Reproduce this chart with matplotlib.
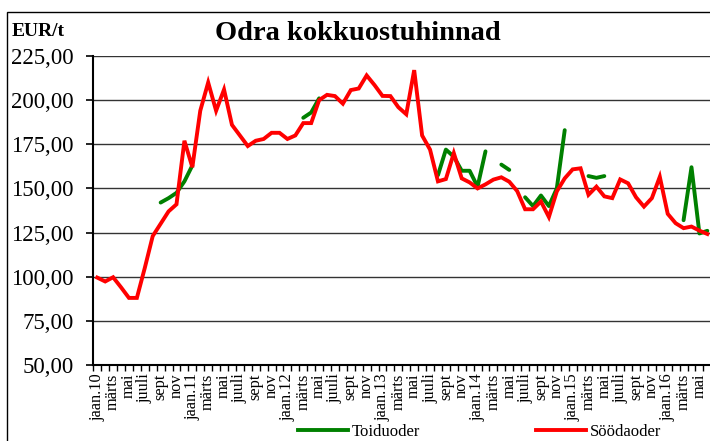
import numpy as np
import matplotlib
matplotlib.use('Agg')
import matplotlib.pyplot as plt
from matplotlib.lines import Line2D
from matplotlib.patches import Rectangle

nan = np.nan

# months from jaan.2010 (index 0) to juuni 2016 (index 77)
month_names = ['jaan', 'veebr', 'märts', 'apr', 'mai', 'juuni',
               'juuli', 'aug', 'sept', 'okt', 'nov', 'dets']

# Söödaoder, EUR/t
feed = [99.5, 97.3, 99.7, 94, 88, 88, 105, 123, 130, 137, 141,
        177, 162, 194, 210, 194, 206, 186, 180, 174, 177, 178,
        181.5, 181.5, 178, 180, 187, 187, 200, 203, 202.3, 198,
        205.7, 206.6, 214, 208.5, 202.4, 202.3, 196, 192, 217,
        180, 172, 154, 155.3, 170, 155.7, 153.4, 150, 152.3, 155,
        156.3, 153.8, 148.5, 138.2, 138.2, 142.6, 133.8, 148.3,
        155.7, 160.8, 161.4, 146.4, 151, 145.5, 144.5, 155.1,
        152.9, 145, 139.7, 144.5, 156.6, 135.6, 130.3, 127.5,
        128.4, 126.1, 124.2]

# Toiduoder, EUR/t (gaps where there is no price)
food = [nan] * 78
food[8:13] = [142, 144.5, 147.5, 154, 163]
food[26:29] = [190, 193, 201]
food[43:50] = [157.5, 172, 168, 160, 160, 151, 171]
food[51:53] = [163.5, 160.5]
food[54:60] = [145, 140, 146, 140, 150, 183]
food[62:65] = [157, 156, 157]
food[74:78] = [132, 162, 124.5, 126]

months = np.arange(len(feed))
tick_pos = months[::2]
tick_labels = []
for m in tick_pos:
    name = month_names[m % 12]
    if m % 12 == 0:
        name = name + '.' + str(10 + m // 12)
    tick_labels.append(name)

plt.rcParams['font.family'] = ['Liberation Serif', 'DejaVu Serif']

fig = plt.figure(figsize=(7.1, 4.41), dpi=100)

# outer chart border (cropped on the right and bottom)
fig.patches.append(Rectangle((7 / 710, -0.05), 1.1, 1 - 12 / 441 + 0.05,
                             transform=fig.transFigure, fill=False,
                             edgecolor='black', linewidth=1))

ax = fig.add_axes([93.3 / 710, 1 - 365 / 441, 618 / 710, 309 / 441])

ax.plot(months, food, color='#008000', linewidth=2.8, solid_capstyle='round')
ax.plot(months, feed, color='#ff0000', linewidth=2.8, solid_joinstyle='miter')

ax.set_xlim(-0.5, 77.5)
ax.set_ylim(50, 225)
yt = np.arange(50, 226, 25)
ax.set_yticks(yt)
ax.set_yticklabels(['{:.2f}'.format(v).replace('.', ',') for v in yt], fontsize=16.5)
ax.tick_params(axis='y', direction='out', length=5, width=1.2, pad=9)
ax.yaxis.grid(True, color='#333333', linewidth=1)
ax.set_axisbelow(True)

ax.set_xticks(tick_pos)
ax.set_xticklabels(tick_labels, rotation=90, fontsize=11.8, va='top', ha='center')
ax.set_xticks(np.arange(-0.5, 78, 1), minor=True)
ax.tick_params(axis='x', which='major', length=0, pad=6)
ax.tick_params(axis='x', which='minor', direction='out', length=4, width=1)

ax.spines['top'].set_visible(False)
ax.spines['right'].set_visible(False)
ax.spines['left'].set_linewidth(1.5)
ax.spines['bottom'].set_linewidth(1.5)

# title is letter-spaced in the original
fig.text(358 / 710, 1 - 33 / 441, 'Odra kokkuostuhinnad', ha='center', va='center',
         fontsize=20.5, fontweight='bold')
fig.text(12 / 710, 1 - 31 / 441, 'EUR/t', ha='left', va='center',
         fontsize=14, fontweight='bold')

handles = [Line2D([], [], color='#008000', linewidth=2.8),
           Line2D([], [], color='#ff0000', linewidth=2.8)]
fig.legend(handles, ['Toiduoder', 'Söödaoder'], ncol=2, loc='center left',
           bbox_to_anchor=(298 / 710, 1 - 432 / 441), frameon=False,
           fontsize=12, handlelength=3, handletextpad=0.25, columnspacing=6.9,
           borderpad=0, borderaxespad=0)

fig.savefig('out.png', dpi=100)
